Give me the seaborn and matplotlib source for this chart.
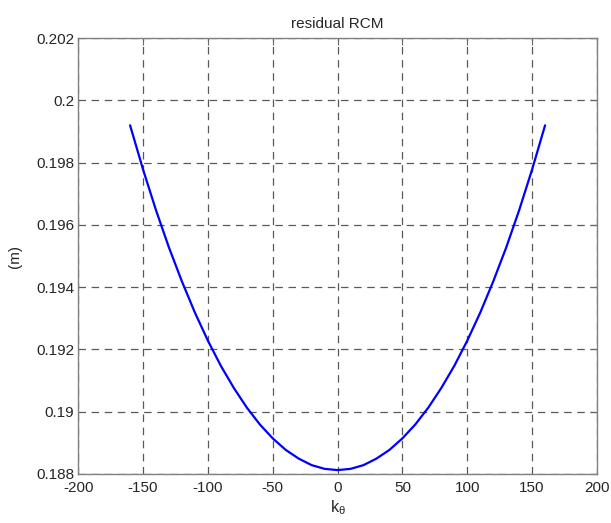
import matplotlib
matplotlib.use("Agg")
import matplotlib.pyplot as plt
import seaborn as sns
import numpy as np
import pandas as pd

# data
k_theta = [-160, -150, -140, -130, -120, -110, -100, -90, -80, -70, -60, -50, -40, -30, -20, -10,
           0, 10, 20, 30, 40, 50, 60, 70, 80, 90, 100, 110, 120, 130, 140, 150, 160]
rcm_right = [0.18812, 0.18816, 0.18828, 0.18849, 0.18877, 0.18914, 0.18959, 0.19013, 0.19076,
             0.19147, 0.19228, 0.19318, 0.19418, 0.19527, 0.19647, 0.19778, 0.19920]
residual_rcm = rcm_right[::-1] + rcm_right[1:]

x_ticks = [-200, -150, -100, -50, 0, 50, 100, 150, 200]
x_tick_labels = ["-200", "-150", "-100", "-50", "0", "50", "100", "150", "200"]
y_ticks = [0.188, 0.190, 0.192, 0.194, 0.196, 0.198, 0.200, 0.202]
y_tick_labels = ["0.188", "0.19", "0.192", "0.194", "0.196", "0.198", "0.2", "0.202"]

df = pd.DataFrame({"k": k_theta, "rcm": residual_rcm})

sns.set_style("white")
plt.rcParams["font.family"] = ["Liberation Sans", "DejaVu Sans"]
plt.rcParams["mathtext.fontset"] = "custom"
plt.rcParams["mathtext.rm"] = "Liberation Sans"
plt.rcParams["mathtext.it"] = "Liberation Sans"

fig = plt.figure(figsize=(6.11, 5.23), dpi=100)
ax = fig.add_axes([0.128, 0.094, 0.849, 0.833])

sns.lineplot(data=df, x="k", y="rcm", color="#0000ff", linewidth=1.6, ax=ax, sort=False)

ax.set_xlim(-200, 200)
ax.set_ylim(0.188, 0.202)
ax.set_xticks(x_ticks)
ax.set_xticklabels(x_tick_labels)
ax.set_yticks(y_ticks)
ax.set_yticklabels(y_tick_labels)

ax.grid(True, color="0.35", linestyle=(0, (6, 4.5)), linewidth=0.9)
ax.set_axisbelow(True)

for s in ax.spines.values():
    s.set_color("0.5")
    s.set_linewidth(1.0)
    s.set_visible(True)

ax.tick_params(direction="in", top=True, right=True, length=5, width=0.8,
               color="0.4", labelsize=11, labelcolor="0.15")
ax.tick_params(axis="x", pad=5.5)
ax.tick_params(axis="y", pad=3)

ax.set_title("residual RCM", fontsize=11, color="0.15", pad=7)
ax.set_xlabel(r"k$_{\theta}$", fontsize=11.5, color="0.15", labelpad=2)
ax.set_ylabel("(m)", fontsize=11, color="0.15", labelpad=10)

fig.savefig("out.png", dpi=100)
